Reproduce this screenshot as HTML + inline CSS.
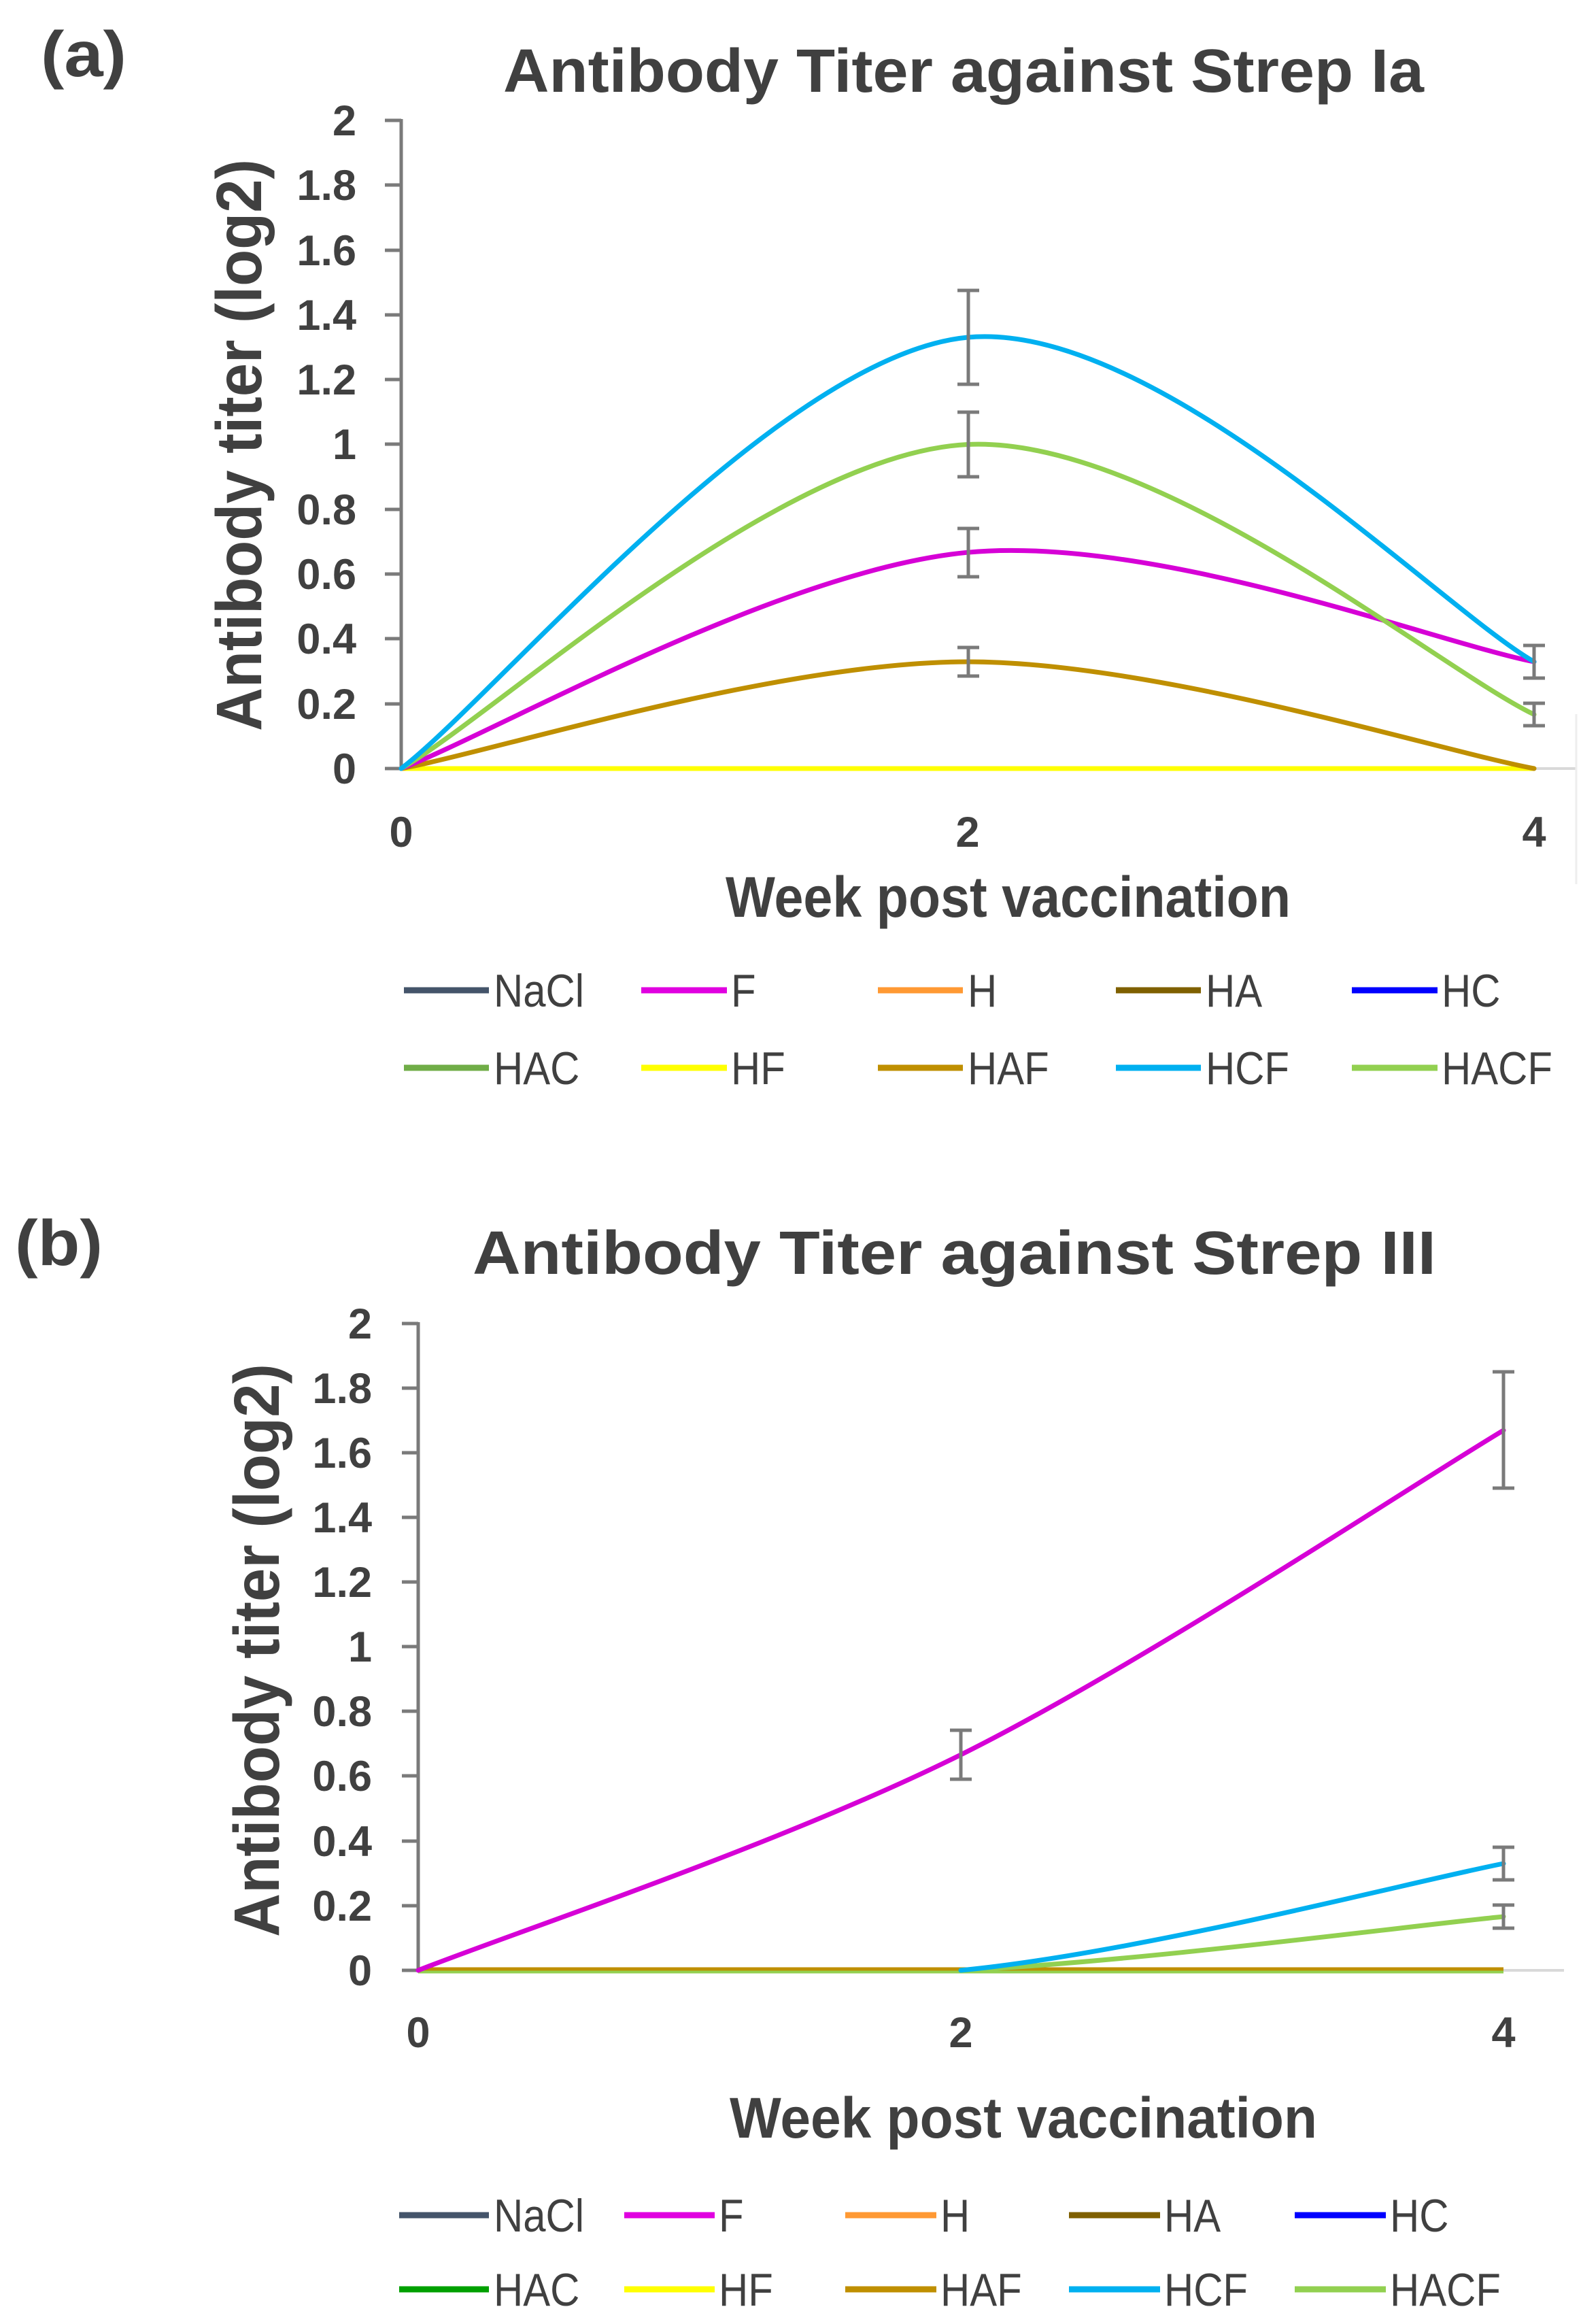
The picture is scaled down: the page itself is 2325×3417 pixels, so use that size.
<!DOCTYPE html>
<html><head><meta charset="utf-8"><style>
html,body{margin:0;padding:0;background:#fff}
svg{display:block}
text{font-family:"Liberation Sans",sans-serif;fill:#404040}
.t{font-weight:bold}
.k{font-size:63px;font-weight:bold}
.l{font-size:68px}
.e{stroke:#7a7a7a;stroke-width:5;fill:none}
.s{fill:none;stroke-width:7;stroke-linecap:round}
</style></head><body>
<svg width="2325" height="3417" viewBox="0 0 2325 3417" xmlns="http://www.w3.org/2000/svg">
<!-- ===== (a) ===== -->
<text class="t" x="60" y="112" font-size="95" textLength="126" lengthAdjust="spacingAndGlyphs">(a)</text>
<text class="t" x="740" y="135" font-size="90" textLength="1354" lengthAdjust="spacingAndGlyphs">Antibody Titer against Strep Ia</text>
<text class="t" transform="translate(384,1075) rotate(-90)" font-size="95" textLength="841" lengthAdjust="spacingAndGlyphs">Antibody titer (log2)</text>
<g stroke="#7a7a7a" stroke-width="5">
<line x1="590" y1="175" x2="590" y2="1132"/>
<line x1="566" y1="177" x2="590" y2="177"/><line x1="566" y1="272" x2="590" y2="272"/><line x1="566" y1="368" x2="590" y2="368"/><line x1="566" y1="463" x2="590" y2="463"/><line x1="566" y1="558" x2="590" y2="558"/><line x1="566" y1="653" x2="590" y2="653"/><line x1="566" y1="749" x2="590" y2="749"/><line x1="566" y1="844" x2="590" y2="844"/><line x1="566" y1="939" x2="590" y2="939"/><line x1="566" y1="1035" x2="590" y2="1035"/><line x1="566" y1="1130" x2="590" y2="1130"/>
</g>
<line x1="590" y1="1130" x2="2318" y2="1130" stroke="#d9d9d9" stroke-width="4"/>
<line x1="2318" y1="1050" x2="2318" y2="1300" stroke="#eeeeee" stroke-width="3"/>
<g class="k" text-anchor="end">
<text x="524" y="199">2</text><text x="524" y="294">1.8</text><text x="524" y="390">1.6</text><text x="524" y="485">1.4</text><text x="524" y="580">1.2</text><text x="524" y="675">1</text><text x="524" y="771">0.8</text><text x="524" y="866">0.6</text><text x="524" y="961">0.4</text><text x="524" y="1057">0.2</text><text x="524" y="1152">0</text>
</g>
<g class="k" text-anchor="middle"><text x="590" y="1245">0</text><text x="1423" y="1245">2</text><text x="2256" y="1245">4</text></g>
<text class="t" x="1067" y="1348" font-size="84" textLength="831" lengthAdjust="spacingAndGlyphs">Week post vaccination</text>
<line x1="590" y1="1130" x2="2256" y2="1130" stroke="#ffff00" stroke-width="7"/>
<path class="s" stroke="#bf8f00" d="M590,1130 C728.8,1104 1145.3,973 1423,973 C1700.7,973 2117.2,1104 2256,1130"/>
<path class="s" stroke="#d600d6" d="M590,1130 C728.8,1077 1145.3,838.4 1423,812.2 C1700.7,786 2117.2,946.2 2256,973"/>
<path class="s" stroke="#92d050" d="M590,1130 C728.8,1050.6 1145.3,666.75 1423,653.5 C1700.7,640.25 2117.2,984.3 2256,1050.5"/>
<path class="s" stroke="#00b0f0" d="M590,1130 C728.8,1024.3 1145.3,522.2 1423,496 C1700.7,469.8 2117.2,893.5 2256,973"/>
<g class="e">
<path d="M1424,427V565M1408,427H1440M1408,565H1440"/>
<path d="M1424,606V701M1408,606H1440M1408,701H1440"/>
<path d="M1424,777V848M1408,777H1440M1408,848H1440"/>
<path d="M1424,952V994M1408,952H1440M1408,994H1440"/>
<path d="M2256,949V997M2240,949H2272M2240,997H2272"/>
<path d="M2256,1034V1067M2240,1034H2272M2240,1067H2272"/>
</g>
<!-- legend a -->
<g stroke-width="9">
<line x1="594" y1="1456" x2="719" y2="1456" stroke="#44546a"/>
<line x1="943" y1="1456" x2="1069" y2="1456" stroke="#e000e0"/>
<line x1="1291" y1="1456" x2="1416" y2="1456" stroke="#ff9933"/>
<line x1="1641" y1="1456" x2="1766" y2="1456" stroke="#7f6000"/>
<line x1="1988" y1="1456" x2="2114" y2="1456" stroke="#0000ff"/>
<line x1="594" y1="1570" x2="719" y2="1570" stroke="#70ad47"/>
<line x1="943" y1="1570" x2="1069" y2="1570" stroke="#ffff00"/>
<line x1="1291" y1="1570" x2="1416" y2="1570" stroke="#bf8f00"/>
<line x1="1641" y1="1570" x2="1766" y2="1570" stroke="#00b0f0"/>
<line x1="1988" y1="1570" x2="2114" y2="1570" stroke="#92d050"/>
</g>
<g class="l">
<text transform="translate(726,1480) scale(0.88,1)">NaCl</text><text transform="translate(1075,1480) scale(0.88,1)">F</text><text transform="translate(1423,1480) scale(0.88,1)">H</text><text transform="translate(1773,1480) scale(0.88,1)">HA</text><text transform="translate(2120,1480) scale(0.88,1)">HC</text>
<text transform="translate(726,1594) scale(0.88,1)">HAC</text><text transform="translate(1075,1594) scale(0.88,1)">HF</text><text transform="translate(1423,1594) scale(0.88,1)">HAF</text><text transform="translate(1773,1594) scale(0.88,1)">HCF</text><text transform="translate(2120,1594) scale(0.88,1)">HACF</text>
</g>
<!-- ===== (b) ===== -->
<text class="t" x="22" y="1860" font-size="95" textLength="129" lengthAdjust="spacingAndGlyphs">(b)</text>
<text class="t" x="695" y="1873" font-size="90" textLength="1417" lengthAdjust="spacingAndGlyphs">Antibody Titer against Strep III</text>
<text class="t" transform="translate(410,2848) rotate(-90)" font-size="95" textLength="843" lengthAdjust="spacingAndGlyphs">Antibody titer (log2)</text>
<g stroke="#7a7a7a" stroke-width="5">
<line x1="615" y1="1944" x2="615" y2="2899"/>
<line x1="591" y1="1946" x2="615" y2="1946"/><line x1="591" y1="2041" x2="615" y2="2041"/><line x1="591" y1="2136" x2="615" y2="2136"/><line x1="591" y1="2231" x2="615" y2="2231"/><line x1="591" y1="2326" x2="615" y2="2326"/><line x1="591" y1="2421" x2="615" y2="2421"/><line x1="591" y1="2516" x2="615" y2="2516"/><line x1="591" y1="2611" x2="615" y2="2611"/><line x1="591" y1="2707" x2="615" y2="2707"/><line x1="591" y1="2802" x2="615" y2="2802"/><line x1="591" y1="2897" x2="615" y2="2897"/>
</g>
<line x1="615" y1="2897" x2="2300" y2="2897" stroke="#d9d9d9" stroke-width="4"/>
<g class="k" text-anchor="end">
<text x="547" y="1968">2</text><text x="547" y="2063">1.8</text><text x="547" y="2158">1.6</text><text x="547" y="2253">1.4</text><text x="547" y="2348">1.2</text><text x="547" y="2443">1</text><text x="547" y="2538">0.8</text><text x="547" y="2633">0.6</text><text x="547" y="2729">0.4</text><text x="547" y="2824">0.2</text><text x="547" y="2919">0</text>
</g>
<g class="k" text-anchor="middle"><text x="615" y="3010">0</text><text x="1413" y="3010">2</text><text x="2211" y="3010">4</text></g>
<text class="t" x="1073" y="3143" font-size="84" textLength="864" lengthAdjust="spacingAndGlyphs">Week post vaccination</text>
<line x1="615" y1="2898" x2="2211" y2="2898" stroke="#92d050" stroke-width="7"/>
<line x1="615" y1="2895" x2="2211" y2="2895" stroke="#bf8f00" stroke-width="5"/>
<path class="s" stroke="#92d050" d="M1413,2897 C1679,2884 2078,2831 2211,2818"/>
<path class="s" stroke="#00b0f0" d="M1413,2897 C1679,2871 2078,2766 2211,2740"/>
<path class="s" stroke="#d600d6" d="M615,2897 C748,2844 1147,2712.3 1413,2580 C1679,2447.7 2078,2182.5 2211,2103"/>
<g class="e">
<path d="M1413,2544V2616M1397,2544H1429M1397,2616H1429"/>
<path d="M2211,2017V2188M2195,2017H2227M2195,2188H2227"/>
<path d="M2211,2716V2764M2195,2716H2227M2195,2764H2227"/>
<path d="M2211,2801V2835M2195,2801H2227M2195,2835H2227"/>
</g>
<!-- legend b -->
<g stroke-width="9">
<line x1="587" y1="3257" x2="719" y2="3257" stroke="#44546a"/>
<line x1="918" y1="3257" x2="1051" y2="3257" stroke="#e000e0"/>
<line x1="1243" y1="3257" x2="1377" y2="3257" stroke="#ff9933"/>
<line x1="1572" y1="3257" x2="1706" y2="3257" stroke="#7f6000"/>
<line x1="1904" y1="3257" x2="2038" y2="3257" stroke="#0000ff"/>
<line x1="587" y1="3366" x2="719" y2="3366" stroke="#00a000"/>
<line x1="918" y1="3366" x2="1051" y2="3366" stroke="#ffff00"/>
<line x1="1243" y1="3366" x2="1377" y2="3366" stroke="#bf8f00"/>
<line x1="1572" y1="3366" x2="1706" y2="3366" stroke="#00b0f0"/>
<line x1="1904" y1="3366" x2="2038" y2="3366" stroke="#92d050"/>
</g>
<g class="l">
<text transform="translate(726,3281) scale(0.88,1)">NaCl</text><text transform="translate(1057,3281) scale(0.88,1)">F</text><text transform="translate(1383,3281) scale(0.88,1)">H</text><text transform="translate(1712,3281) scale(0.88,1)">HA</text><text transform="translate(2044,3281) scale(0.88,1)">HC</text>
<text transform="translate(726,3390) scale(0.88,1)">HAC</text><text transform="translate(1057,3390) scale(0.88,1)">HF</text><text transform="translate(1383,3390) scale(0.88,1)">HAF</text><text transform="translate(1712,3390) scale(0.88,1)">HCF</text><text transform="translate(2044,3390) scale(0.88,1)">HACF</text>
</g>
</svg>
</body></html>
